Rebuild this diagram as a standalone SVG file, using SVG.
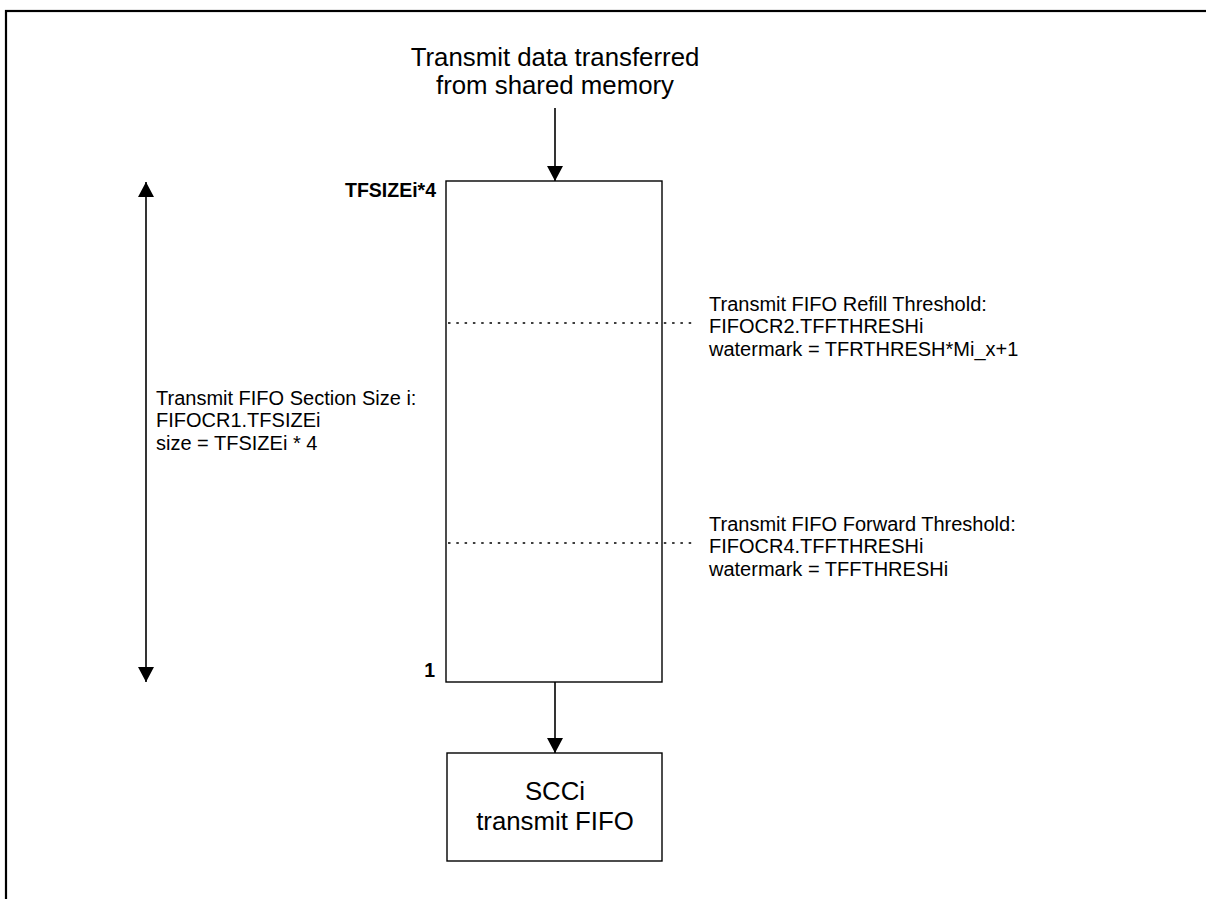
<svg xmlns="http://www.w3.org/2000/svg" width="1206" height="899" viewBox="0 0 1206 899">
<style>
text{font-family:"Liberation Sans",Arial,sans-serif;fill:#000}
.big{font-size:25.8px;text-anchor:middle}
.lbl{font-size:20px}
.bold{font-size:19.5px;font-weight:bold;text-anchor:end}
.box{fill:#fff;stroke:#000;stroke-width:1.4}
.line{stroke:#000;stroke-width:1.6;fill:none}
.dot{stroke:#000;stroke-width:1.5;stroke-dasharray:2.5 5.8;fill:none}
</style>
<defs>
<marker id="ah2" viewBox="0 0 15 16" refX="15" refY="8" markerWidth="15" markerHeight="16" markerUnits="userSpaceOnUse" orient="auto-start-reverse"><path d="M0,0 L15,8 L0,16 Z" fill="#000"/></marker>
</defs>
<rect x="6" y="11" width="1220" height="910" fill="none" stroke="#000" stroke-width="2.2"/>
<g id="title">
<text class="big" x="555" y="66">Transmit data transferred</text>
<text class="big" x="555" y="94">from shared memory</text>
</g>
<g id="fifo">
<rect class="box" x="446" y="181" width="216" height="501"/>
<text class="bold" x="436" y="197">TFSIZEi*4</text>
<text class="bold" x="435" y="677">1</text>
</g>
<g id="scc">
<rect class="box" x="447" y="753" width="215" height="108"/>
<text class="big" x="555" y="800">SCCi</text>
<text class="big" x="555" y="830">transmit FIFO</text>
</g>
<g id="refill">
<text class="lbl" x="709" y="311">Transmit FIFO Refill Threshold:</text>
<text class="lbl" x="709" y="333">FIFOCR2.TFFTHRESHi</text>
<text class="lbl" x="709" y="356">watermark = TFRTHRESH*Mi_x+1</text>
</g>
<g id="forward">
<text class="lbl" x="709" y="531">Transmit FIFO Forward Threshold:</text>
<text class="lbl" x="709" y="553">FIFOCR4.TFFTHRESHi</text>
<text class="lbl" x="709" y="576">watermark = TFFTHRESHi</text>
</g>
<g id="size">
<text class="lbl" x="156" y="405">Transmit FIFO Section Size i:</text>
<text class="lbl" x="156" y="427">FIFOCR1.TFSIZEi</text>
<text class="lbl" x="156" y="450">size = TFSIZEi * 4</text>
</g>
<g id="connectors">
<line class="line" x1="555" y1="108" x2="555" y2="181" marker-end="url(#ah2)"/>
<line class="line" x1="555" y1="682" x2="555" y2="753" marker-end="url(#ah2)"/>
<line class="line" x1="146" y1="182" x2="146" y2="682" marker-start="url(#ah2)" marker-end="url(#ah2)"/>
<line class="dot" x1="448" y1="323" x2="692" y2="323"/>
<line class="dot" x1="448" y1="543" x2="692" y2="543"/>
</g>
</svg>
